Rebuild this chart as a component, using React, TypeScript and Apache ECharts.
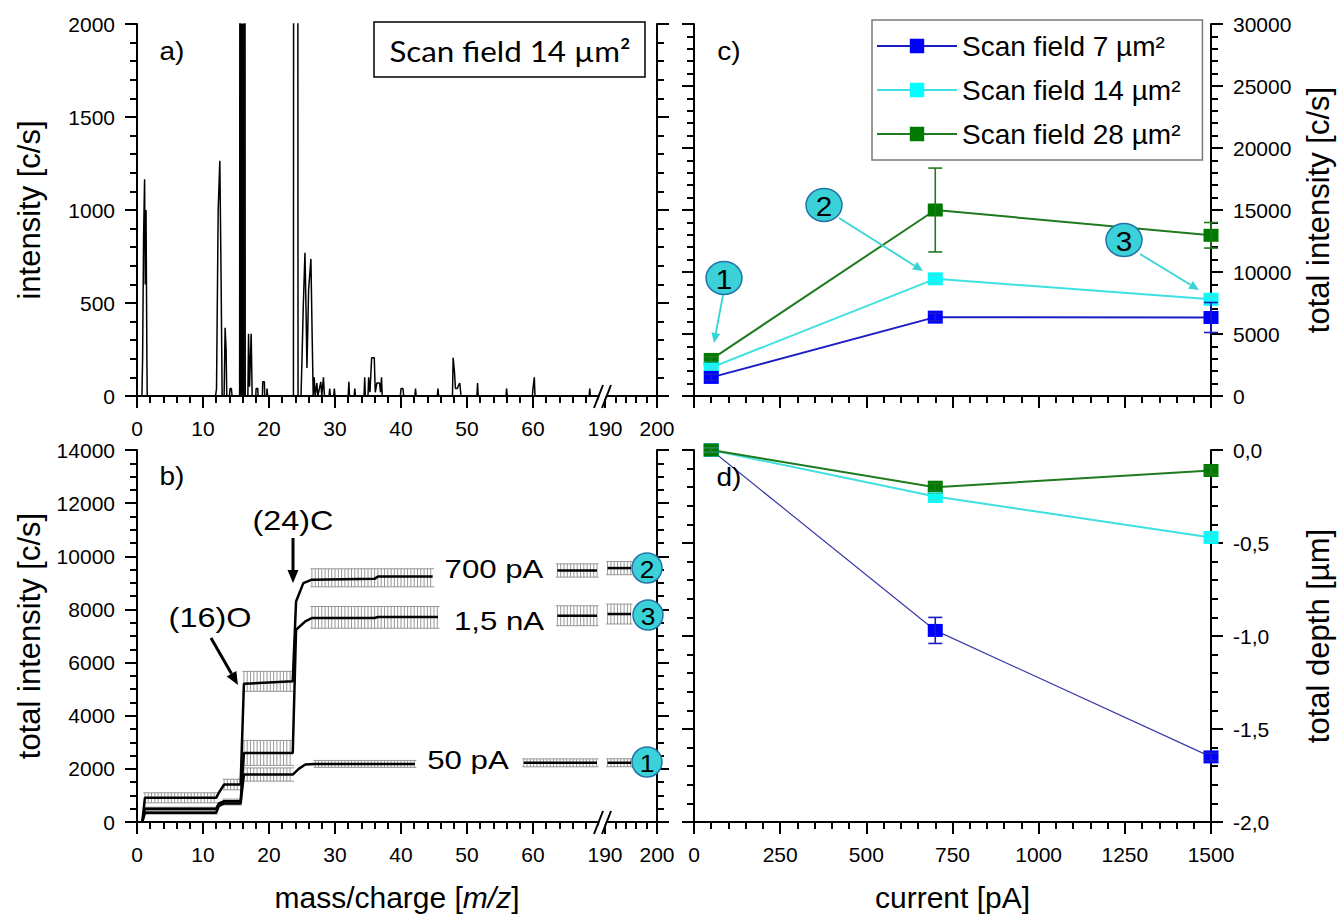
import React, { useEffect, useRef } from 'react';
import * as echarts from 'echarts';

const FONT = '"Liberation Sans", Arial, Helvetica, sans-serif';
const W = 1343;
const H = 918;

// ---------- tick labels ----------
const massTicksMain = [0, 10, 20, 30, 40, 50, 60, 70];
const massTicksFar = [190, 200];
const intensityTicksA = [0, 500, 1000, 1500, 2000];
const intensityTicksB = [0, 2000, 4000, 6000, 8000, 10000, 12000, 14000];
const currentTicks = [0, 250, 500, 750, 1000, 1250, 1500];
const totalTicksC = [0, 5000, 10000, 15000, 20000, 25000, 30000];
const depthTicks = [-2, -1.5, -1, -0.5, 0];

// ---------- panel a: mass spectrum, scan field 14 µm² [mass, intensity] ----------
const spectrumA: [number, number][] = [
  [0, 0], [0.75, 0], [0.85, 205], [1.0, 866], [1.15, 1165], [1.25, 600], [1.37, 1000], [1.5, 180], [1.55, 0],
  [11.9, 0], [12.05, 40], [12.3, 1000], [12.55, 1265], [12.75, 600], [12.9, 0],
  [13.2, 0], [13.35, 367], [13.5, 250], [13.6, 0],
  [14.0, 0], [14.1, 40], [14.3, 40], [14.4, 0],
  [15.55, 0], [15.6, 3500], [16.35, 3500], [16.4, 0],
  [16.8, 0], [16.9, 335], [17.05, 50], [17.3, 335], [17.45, 0],
  [18.0, 0], [18.05, 40], [18.3, 40], [18.35, 0],
  [19.0, 0], [19.05, 76], [19.3, 76], [19.35, 0],
  [19.65, 0], [19.7, 40], [19.8, 0],
  [23.7, 0], [23.75, 4000], [24.35, 4000], [24.4, 0],
  [24.85, 0], [25.0, 200], [25.2, 490], [25.45, 770], [25.65, 380], [25.75, 150], [26.0, 570], [26.35, 737], [26.55, 300], [26.7, 0],
  [26.85, 100], [27.0, 0], [27.25, 70], [27.4, 0], [27.85, 76], [28.0, 0], [28.25, 100], [28.4, 0],
  [29.1, 0], [29.2, 40], [29.3, 0], [29.8, 0], [29.9, 40], [30.0, 0],
  [32.0, 0], [32.1, 76], [32.2, 0], [32.9, 0], [33.0, 40], [33.1, 0],
  [34.4, 0], [34.5, 100], [34.6, 0], [35.0, 0], [35.1, 100], [35.3, 20], [35.55, 205], [35.95, 205], [36.1, 20],
  [36.35, 70], [36.75, 70], [36.9, 20], [37.05, 100], [37.15, 0],
  [39.9, 0], [40.0, 40], [40.3, 40], [40.4, 0],
  [42.1, 0], [42.2, 40], [42.3, 0],
  [45.5, 0], [45.6, 40], [45.7, 0],
  [47.8, 0], [47.9, 205], [48.1, 130], [48.25, 40], [48.5, 40], [48.9, 70], [49.1, 0],
  [51.5, 0], [51.6, 70], [51.7, 0],
  [55.9, 0], [56.0, 40], [56.1, 0],
  [59.9, 0], [60.0, 40], [60.2, 100], [60.3, 0],
  [68.5, 0], [68.6, 40], [68.7, 0], [70, 0],
];
// saturated (16)O band, drawn filled
const oxygenBand: [number, number][] = [[15.6, 3500], [16.35, 3500]];

// ---------- panel b: cumulative total intensity [mass, c/s] ----------
const curve700: [number, number][] = [
  [0.8, 0], [1.2, 910], [12.0, 910], [12.4, 1100], [13.2, 1410], [15.7, 1410], [16.2, 5200], [23.6, 5293],
  [24.1, 8300], [25.2, 8990], [26.5, 9120], [36.0, 9150], [36.5, 9240], [44.8, 9240],
];
const curve700Tail: [number, number][] = [[63.7, 9466], [69.7, 9466]];
const curve700Far: [number, number][] = [[190.5, 9556], [195, 9556]];
const curve1500: [number, number][] = [
  [0.8, 0], [1.2, 496], [12.0, 496], [12.4, 700], [13.2, 782], [15.7, 782], [16.2, 2600], [23.6, 2600],
  [24.1, 7237], [25.5, 7549], [26.5, 7677], [36.0, 7680], [36.5, 7714], [45.6, 7714],
];
const curve1500Tail: [number, number][] = [[63.7, 7763], [69.7, 7763]];
const curve1500Far: [number, number][] = [[190.5, 7827], [195, 7827]];
const curve50: [number, number][] = [
  [0.8, 0], [1.2, 346], [12.0, 346], [12.4, 600], [13.2, 700], [15.7, 700], [16.2, 1786], [23.6, 1786],
  [24.5, 2000], [25.5, 2162], [27.0, 2186], [42.1, 2186],
];
const curve50Tail: [number, number][] = [[58.6, 2226], [69.7, 2226]];
const curve50Far: [number, number][] = [[190.5, 2230], [195, 2230]];
// error bands: [mass from, mass to, value, error]
const errBands700 = [[1.2, 12, 910, 190], [13.2, 15.7, 1410, 200], [16.2, 23.6, 5293, 376], [26.5, 44.8, 9190, 340], [63.7, 69.7, 9466, 250]];
const errBands1500 = [[1.2, 12, 496, 60], [13.2, 15.7, 782, 80], [16.2, 23.6, 2600, 470], [26.5, 45.6, 7700, 410], [63.7, 69.7, 7763, 375]];
const errBands50 = [[1.2, 12, 346, 50], [13.2, 15.7, 700, 60], [16.2, 23.6, 1786, 250], [27, 42.1, 2186, 130], [58.6, 69.7, 2226, 150]];
const errBandsFar = [[190.5, 195, 9556, 250], [190.5, 195, 7827, 375], [190.5, 195, 2230, 150]];

// ---------- panels c and d ----------
const currents = [50, 700, 1500];
const seriesNames = ['Scan field 7 µm²', 'Scan field 14 µm²', 'Scan field 28 µm²'];
const lineColors = ['#1c1cc4', '#3fe0e0', '#1f7a1f'];
const markerColors = ['#0000ff', '#00ffff', '#007a00'];
const intensity7 = [1500, 6360, 6330];
const intensity14 = [2290, 9450, 7800];
const intensity28 = [2950, 15000, 12960];
const intensityErr7 = [250, 300, 1210];
const intensityErr14 = [150, 300, 250];
const intensityErr28 = [200, 3380, 1030];
const depth7 = [0, -0.97, -1.65];
const depth14 = [0, -0.25, -0.47];
const depth28 = [0, -0.2, -0.11];
const depthErr7 = [0.01, 0.07, 0.02];
const depthErr14 = [0.01, 0.02, 0.02];
const depthErr28 = [0.01, 0.02, 0.02];

const plainFmt = (v: number) => String(v);

function axisCommon(showLabel: boolean, minorSplit: number, fmt: (v: number) => string = plainFmt) {
  return {
    type: 'value',
    axisLine: { show: true, onZero: false, lineStyle: { color: '#000', width: 2 } },
    axisTick: { show: true, inside: false, length: 12, lineStyle: { color: '#000', width: 2 } },
    minorTick: { show: true, splitNumber: minorSplit, length: 7, lineStyle: { color: '#000', width: 2 } },
    splitLine: { show: false },
    minorSplitLine: { show: false },
    axisLabel: { show: showLabel, color: '#000', fontFamily: FONT, fontSize: 21, margin: 22, formatter: fmt },
  };
}

function range(ticks: number[]) {
  return { min: ticks[0], max: ticks[ticks.length - 1], interval: ticks[1] - ticks[0] };
}

const commaFmt = (v: number) => v.toFixed(1).replace('.', ',').replace('-0,0', '0,0');

function hatchRender(_p: any, api: any) {
  const m0 = api.value(0), m1 = api.value(1), v = api.value(2), e = api.value(3);
  const tl = api.coord([m0, v + e]);
  const br = api.coord([m1, v - e]);
  const st = { stroke: '#858585', lineWidth: 0.85 };
  const children: any[] = [];
  for (let x = tl[0]; x <= br[0] + 0.01; x += 3.3) {
    children.push({ type: 'line', shape: { x1: x, y1: tl[1], x2: x, y2: br[1] }, style: st });
  }
  children.push({ type: 'line', shape: { x1: tl[0] - 1.5, y1: tl[1], x2: br[0] + 1.5, y2: tl[1] }, style: st });
  children.push({ type: 'line', shape: { x1: tl[0] - 1.5, y1: br[1], x2: br[0] + 1.5, y2: br[1] }, style: st });
  return { type: 'group', children };
}

function errRender(_p: any, api: any) {
  const x = api.value(0), y = api.value(1), e = api.value(2), c = api.value(3);
  const top = api.coord([x, y + e]);
  const bot = api.coord([x, y - e]);
  const color = lineColors[c];
  const st = { stroke: color, lineWidth: 1.6 };
  return {
    type: 'group',
    children: [
      { type: 'line', shape: { x1: top[0], y1: top[1], x2: bot[0], y2: bot[1] }, style: st },
      { type: 'line', shape: { x1: top[0] - 7, y1: top[1], x2: top[0] + 7, y2: top[1] }, style: st },
      { type: 'line', shape: { x1: bot[0] - 7, y1: bot[1], x2: bot[0] + 7, y2: bot[1] }, style: st },
    ],
  };
}

function arrow(x1: number, y1: number, x2: number, y2: number, color: string, width: number, head: number, headW: number) {
  const dx = x2 - x1, dy = y2 - y1;
  const len = Math.hypot(dx, dy);
  const ux = dx / len, uy = dy / len;
  const bx = x2 - ux * head, by = y2 - uy * head;
  const px = -uy, py = ux;
  return [
    { type: 'line', z: 100, shape: { x1, y1, x2: bx, y2: by }, style: { stroke: color, lineWidth: width } },
    {
      type: 'polygon', z: 100,
      shape: { points: [[x2, y2], [bx + (px * headW) / 2, by + (py * headW) / 2], [bx - (px * headW) / 2, by - (py * headW) / 2]] },
      style: { fill: color },
    },
  ];
}

function txt(text: string, x: number, y: number, size: number, sx = 1.15, family = FONT) {
  return {
    type: 'text', z: 101, x, y, scaleX: sx,
    style: { text, x: 0, y: 0, align: 'center', verticalAlign: 'middle', fontSize: size, fontFamily: family, fill: '#000' },
  };
}

function badge(label: string, cx: number, cy: number, rx: number, ry: number, size: number) {
  return [
    { type: 'ellipse', z: 100, shape: { cx, cy, rx, ry }, style: { fill: '#3ad2d8', stroke: '#2474a8', lineWidth: 1.5 } },
    txt(label, cx, cy + 1, size, 1.1),
  ];
}

function breakMark(y: number) {
  return [
    { type: 'polygon', z: 100, shape: { points: [[595, y + 12], [604, y - 11], [610, y - 11], [601, y + 12]] }, style: { fill: '#fff' } },
    { type: 'line', z: 101, shape: { x1: 594, y1: y + 12, x2: 603, y2: y - 11 }, style: { stroke: '#000', lineWidth: 2 } },
    { type: 'line', z: 101, shape: { x1: 602, y1: y + 12, x2: 611, y2: y - 11 }, style: { stroke: '#000', lineWidth: 2 } },
  ];
}

function buildOption() {
  const grids = [
    { left: 137, top: 24, width: 462, height: 372 },
    { left: 605, top: 24, width: 52, height: 372 },
    { left: 137, top: 450, width: 462, height: 372 },
    { left: 605, top: 450, width: 52, height: 372 },
    { left: 694, top: 24, width: 517, height: 372 },
    { left: 694, top: 450, width: 517, height: 372 },
  ];
  const hideMax = (v: number) => (v === massTicksMain[massTicksMain.length - 1] ? '' : String(v));
  const xAxes: any[] = [
    { ...axisCommon(true, 5, hideMax), gridIndex: 0, ...range(massTicksMain) },
    { ...axisCommon(true, 5), gridIndex: 1, ...range(massTicksFar) },
    {
      ...axisCommon(true, 5, hideMax), gridIndex: 2, ...range(massTicksMain),
      name: 'mass/charge [{it|m/z}]', nameLocation: 'middle', nameGap: 60,
      nameTextStyle: {
        fontFamily: FONT, fontSize: 30, color: '#000', padding: [0, 0, 0, 58],
        rich: { it: { fontFamily: FONT, fontSize: 30, fontStyle: 'italic', color: '#000' } },
      },
    },
    { ...axisCommon(true, 5), gridIndex: 3, ...range(massTicksFar) },
    { ...axisCommon(false, 5), gridIndex: 4, ...range(currentTicks) },
    {
      ...axisCommon(true, 5), gridIndex: 5, ...range(currentTicks),
      name: 'current [pA]', nameLocation: 'middle', nameGap: 60,
      nameTextStyle: { fontFamily: FONT, fontSize: 30, color: '#000' },
    },
  ];
  const yName = (name: string, gap: number) => ({
    name, nameLocation: 'middle', nameGap: gap, nameRotate: 90,
    nameTextStyle: { fontFamily: FONT, fontSize: 31, color: '#000' },
  });
  const yAxes: any[] = [
    { ...axisCommon(true, 5), gridIndex: 0, position: 'left', ...range(intensityTicksA), ...yName('intensity [c/s]', 92) },
    { ...axisCommon(false, 5), gridIndex: 1, position: 'right', ...range(intensityTicksA) },
    { ...axisCommon(true, 4), gridIndex: 2, position: 'left', ...range(intensityTicksB), ...yName('total intensity [c/s]', 92) },
    { ...axisCommon(false, 4), gridIndex: 3, position: 'right', ...range(intensityTicksB) },
    { ...axisCommon(false, 5), gridIndex: 4, position: 'left', ...range(totalTicksC) },
    { ...axisCommon(true, 5), gridIndex: 4, position: 'right', ...range(totalTicksC), ...yName('total intensity [c/s]', 92) },
    { ...axisCommon(false, 5), gridIndex: 5, position: 'left', ...range(depthTicks) },
    { ...axisCommon(true, 5, commaFmt), gridIndex: 5, position: 'right', ...range(depthTicks), ...yName('total depth [µm]', 92) },
  ];

  const blackLine = (data: [number, number][], xi: number, yi: number) => ({
    type: 'line', xAxisIndex: xi, yAxisIndex: yi, data, symbol: 'none', showSymbol: false,
    lineStyle: { color: '#000', width: 2.5 }, z: 3, silent: true,
  });

  const intens = [intensity7, intensity14, intensity28];
  const intensErr = [intensityErr7, intensityErr14, intensityErr28];
  const depths = [depth7, depth14, depth28];
  const depthErrs = [depthErr7, depthErr14, depthErr28];
  const orderC = [2, 1, 0];
  const orderD = [0, 1, 2];

  const series: any[] = [
    {
      type: 'line', xAxisIndex: 0, yAxisIndex: 0, data: spectrumA, symbol: 'none', showSymbol: false,
      lineStyle: { color: '#000', width: 1.5 }, clip: true, z: 3, silent: true,
    },
    {
      type: 'line', xAxisIndex: 0, yAxisIndex: 0, data: oxygenBand, symbol: 'none', showSymbol: false,
      lineStyle: { color: '#000', width: 1 }, areaStyle: { color: '#000', opacity: 1 }, clip: true, z: 3, silent: true,
    },
    { type: 'custom', xAxisIndex: 2, yAxisIndex: 2, data: [...errBands700, ...errBands1500, ...errBands50], renderItem: hatchRender, encode: { x: [0, 1], y: 2 }, z: 1, silent: true },
    { type: 'custom', xAxisIndex: 3, yAxisIndex: 3, data: errBandsFar, renderItem: hatchRender, encode: { x: [0, 1], y: 2 }, z: 1, silent: true },
    blackLine(curve700, 2, 2), blackLine(curve700Tail, 2, 2), blackLine(curve700Far, 3, 3),
    blackLine(curve1500, 2, 2), blackLine(curve1500Tail, 2, 2), blackLine(curve1500Far, 3, 3),
    blackLine(curve50, 2, 2), blackLine(curve50Tail, 2, 2), blackLine(curve50Far, 3, 3),
  ];
  orderC.forEach((k) => {
    series.push({
      type: 'line', name: seriesNames[k], xAxisIndex: 4, yAxisIndex: 5,
      data: currents.map((c, i) => [c, intens[k][i]]),
      symbol: 'rect', symbolSize: [15, 13], showSymbol: true,
      lineStyle: { color: lineColors[k], width: 2 }, itemStyle: { color: markerColors[k] }, z: 4,
    });
  });
  series.push({
    type: 'custom', xAxisIndex: 4, yAxisIndex: 5, renderItem: errRender, encode: { x: 0, y: 1 }, z: 5, silent: true,
    data: orderC.flatMap((k) => currents.map((c, i) => [c, intens[k][i], intensErr[k][i], k])),
  });
  orderD.forEach((k) => {
    series.push({
      type: 'line', name: seriesNames[k], xAxisIndex: 5, yAxisIndex: 7,
      data: currents.map((c, i) => [c, depths[k][i]]),
      symbol: 'rect', symbolSize: [15, 13], showSymbol: true,
      lineStyle: { color: k === 0 ? '#3a3aa8' : lineColors[k], width: k === 0 ? 1.2 : 2 }, itemStyle: { color: markerColors[k] }, z: 4,
    });
  });
  series.push({
    type: 'custom', xAxisIndex: 5, yAxisIndex: 7, renderItem: errRender, encode: { x: 0, y: 1 }, z: 5, silent: true,
    data: orderD.flatMap((k) => currents.map((c, i) => [c, depths[k][i], depthErrs[k][i], k])),
  });

  const graphics: any[] = [
    txt('a)', 172, 52, 25, 1.12), txt('b)', 172, 477, 25, 1.12), txt('c)', 729, 52, 25, 1.12), txt('d)', 729, 478, 25, 1.12),
    { type: 'rect', z: 100, shape: { x: 374, y: 22, width: 271, height: 55 }, style: { fill: '#fff', stroke: '#000', lineWidth: 1.5 } },
    txt('Scan field 14 µm²', 510, 50, 29, 1.08, 'Lato, "Open Sans", sans-serif'),
    txt('(24)C', 293, 520, 27, 1.2), txt('(16)O', 210, 617, 27, 1.2),
    ...arrow(293, 538, 293, 583, '#000', 3, 13, 11),
    ...arrow(211, 638, 238, 685, '#000', 3, 13, 11),
    txt('700 pA', 494, 569, 26, 1.2), txt('1,5 nA', 499, 621, 26, 1.2), txt('50 pA', 468, 760, 26, 1.2),
    ...badge('2', 647, 568, 15, 15, 24), ...badge('3', 648, 615, 15, 15, 24), ...badge('1', 647, 762, 15, 15, 24),
    ...arrow(723, 295, 714, 343, '#36d4d4', 1.8, 10, 9),
    ...arrow(839, 218, 923, 271, '#36d4d4', 1.8, 10, 9),
    ...arrow(1140, 254, 1199, 290, '#36d4d4', 1.8, 10, 9),
    ...badge('1', 724, 278, 18, 16.5, 27), ...badge('2', 824, 205, 18, 16.5, 27), ...badge('3', 1124, 240, 18, 16.5, 27),
    ...breakMark(396), ...breakMark(822),
  ];

  return {
    animation: false,
    backgroundColor: '#fff',
    textStyle: { fontFamily: FONT },
    grid: grids,
    xAxis: xAxes,
    yAxis: yAxes,
    legend: {
      data: seriesNames, left: 872, top: 20, orient: 'vertical', selectedMode: false,
      itemWidth: 80, itemHeight: 18, itemGap: 14, padding: [11, 22, 11, 4],
      borderColor: '#7a7a7a', borderWidth: 1.5, backgroundColor: '#fff',
      textStyle: { fontFamily: FONT, fontSize: 28, color: '#000', lineHeight: 30 },
    },
    series,
    graphic: { elements: graphics },
  };
}

export default function App() {
  const ref = useRef<HTMLDivElement>(null);
  useEffect(() => {
    if (!ref.current) return;
    const chart = echarts.init(ref.current, null, { renderer: 'svg', width: W, height: H });
    chart.setOption(buildOption() as any);
    return () => chart.dispose();
  }, []);
  return <div ref={ref} style={{ position: 'fixed', left: 0, top: 0, width: W, height: H, background: '#fff' }} />;
}
